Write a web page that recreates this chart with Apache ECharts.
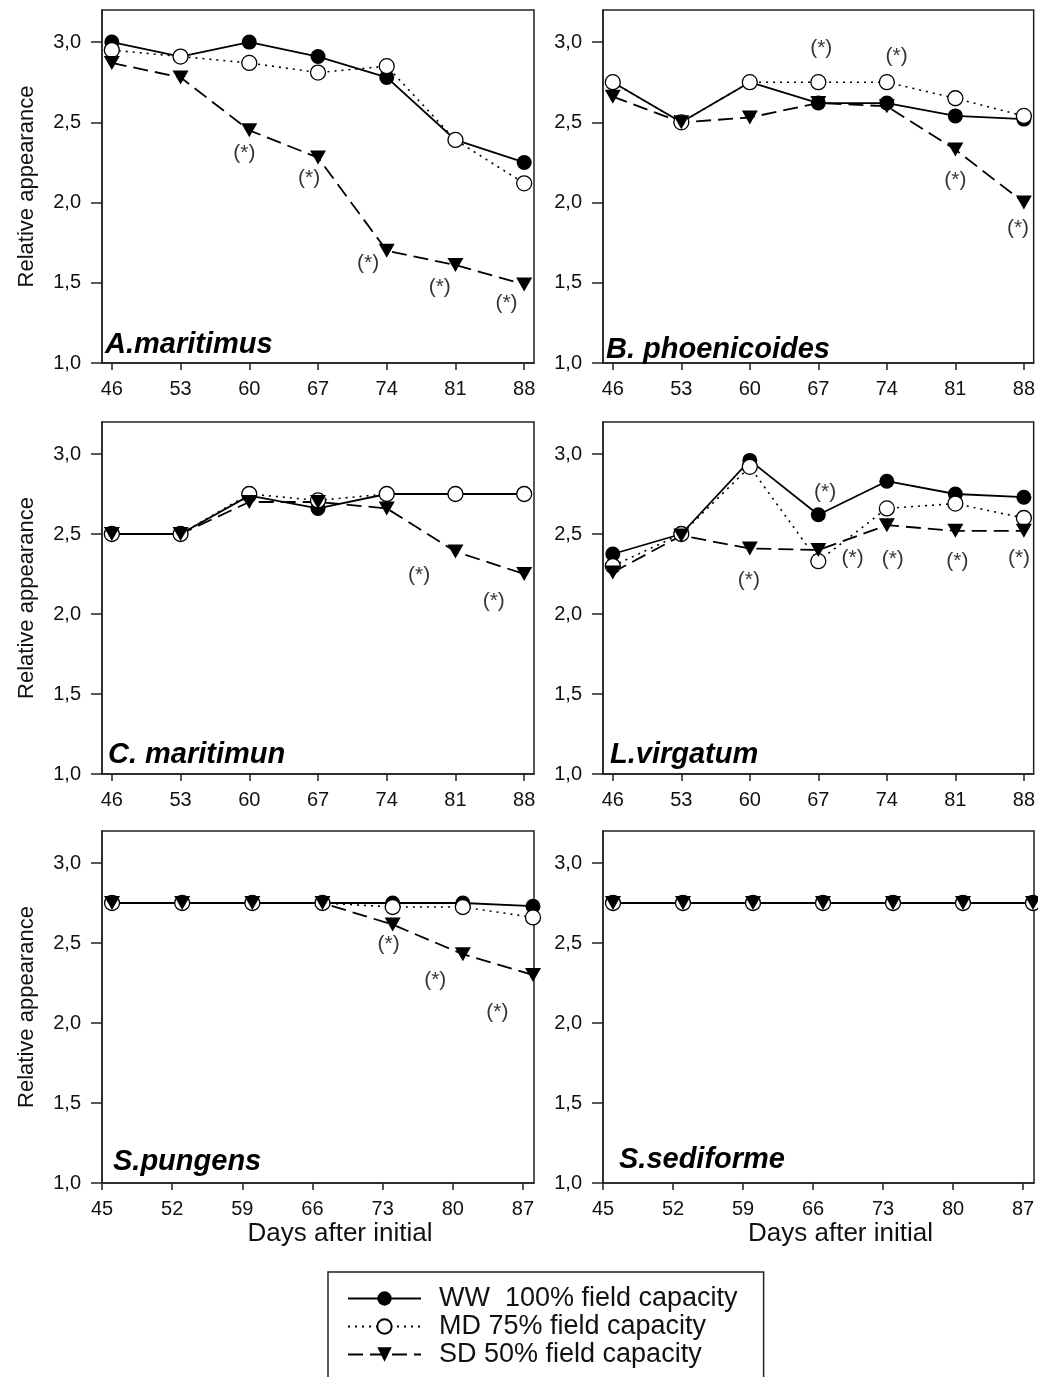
<!DOCTYPE html>
<html lang="en">
<head>
    <meta charset="utf-8">
    <script type="text/javascript" src="https://cdn.jsdelivr.net/npm/echarts@6/dist/echarts.min.js"></script>
</head>
<body style="margin: 0; background: #fff">
<div id="container" style="width:1038px;height:1377px"></div>

<script type="text/javascript">
    // days the plants were scored, and the tick labels used on each row
    var days = [46, 53, 60, 67, 74, 81, 88];
    var topTicks = [46, 53, 60, 67, 74, 81, 88];
    var bottomTicks = [45, 52, 59, 66, 73, 80, 87];
    var yTicks = [1.0, 1.5, 2.0, 2.5, 3.0];

    var seriesNames = ['WW  100% field capacity', 'MD 75% field capacity', 'SD 50% field capacity'];

    // A.maritimus
    var amarWW = [3.0, 2.91, 3.0, 2.91, 2.78, 2.39, 2.25];
    var amarMD = [2.95, 2.91, 2.87, 2.81, 2.85, 2.39, 2.12];
    var amarSD = [2.87, 2.78, 2.45, 2.28, 1.70, 1.61, 1.49];
    var amarStars = [[59.5, 2.31], [66.1, 2.15], [72.1, 1.62], [79.4, 1.47], [86.2, 1.37]];

    // B. phoenicoides
    var bphoWW = [2.75, 2.5, 2.75, 2.62, 2.62, 2.54, 2.52];
    var bphoMD = [2.75, 2.5, 2.75, 2.75, 2.75, 2.65, 2.54];
    var bphoSD = [2.66, 2.5, 2.53, 2.62, 2.60, 2.33, 2.0];
    var bphoStars = [[67.3, 2.96], [75.0, 2.91], [81.0, 2.14], [87.4, 1.84]];

    // C. maritimun
    var cmarWW = [2.5, 2.5, 2.74, 2.66, 2.75, 2.75, 2.75];
    var cmarMD = [2.5, 2.5, 2.75, 2.71, 2.75, 2.75, 2.75];
    var cmarSD = [2.5, 2.5, 2.70, 2.70, 2.66, 2.39, 2.25];
    var cmarStars = [[77.3, 2.24], [84.9, 2.08]];

    // L.virgatum
    var lvirWW = [2.375, 2.5, 2.96, 2.62, 2.83, 2.75, 2.73];
    var lvirMD = [2.30, 2.5, 2.92, 2.33, 2.66, 2.69, 2.60];
    var lvirSD = [2.26, 2.49, 2.41, 2.40, 2.555, 2.52, 2.52];
    var lvirStars = [[67.7, 2.76], [59.9, 2.21], [70.5, 2.35], [74.6, 2.34], [81.2, 2.33], [87.5, 2.35]];

    // S.pungens
    var spunWW = [2.75, 2.75, 2.75, 2.75, 2.75, 2.75, 2.73];
    var spunMD = [2.75, 2.75, 2.75, 2.75, 2.725, 2.725, 2.66];
    var spunSD = [2.75, 2.75, 2.75, 2.75, 2.615, 2.43, 2.30];
    var spunStars = [[73.6, 2.49], [78.25, 2.27], [84.45, 2.07]];

    // S.sediforme
    var ssedWW = [2.75, 2.75, 2.75, 2.75, 2.75, 2.75, 2.75];
    var ssedMD = [2.75, 2.75, 2.75, 2.75, 2.75, 2.75, 2.75];
    var ssedSD = [2.75, 2.75, 2.75, 2.75, 2.75, 2.75, 2.75];
    var ssedStars = [];

    var panels = [
        {name: 'A.maritimus', ww: amarWW, md: amarMD, sd: amarSD, stars: amarStars},
        {name: 'B. phoenicoides', ww: bphoWW, md: bphoMD, sd: bphoSD, stars: bphoStars},
        {name: 'C. maritimun', ww: cmarWW, md: cmarMD, sd: cmarSD, stars: cmarStars},
        {name: 'L.virgatum', ww: lvirWW, md: lvirMD, sd: lvirSD, stars: lvirStars},
        {name: 'S.pungens', ww: spunWW, md: spunMD, sd: spunSD, stars: spunStars},
        {name: 'S.sediforme', ww: ssedWW, md: ssedMD, sd: ssedSD, stars: ssedStars}
    ];

    var font = 'Liberation Sans, Arial, sans-serif';
    var colLeft = [102, 603];
    var colWidth = [432, 431];
    var rowTop = [10, 422, 831];
    var rowHeight = [353, 352, 352];
    // species label offsets inside each box
    var nameOffset = [[3, 320], [3, 325], [6, 318], [7, 318], [11, 316], [16, 314]];

    function pairs(vals) {
        return days.map(function (d, i) { return [d, vals[i]]; });
    }

    var grids = [], xAxes = [], yAxes = [], series = [], titles = [];

    panels.forEach(function (p, i) {
        var col = i % 2, row = Math.floor(i / 2);
        var bottomRow = row === 2;
        grids.push({
            left: colLeft[col], top: rowTop[row], width: colWidth[col], height: rowHeight[row],
            show: true, borderColor: '#222', borderWidth: 1.5, backgroundColor: '#fff'
        });
        xAxes.push({
            type: 'value', gridIndex: i,
            min: 45, max: bottomRow ? 88.1 : 89,
            splitLine: {show: false},
            axisLine: {lineStyle: {color: '#222', width: 1.5}},
            axisTick: {show: true, length: 7, lineStyle: {color: '#222', width: 1.5},
                customValues: bottomRow ? bottomTicks : topTicks},
            axisLabel: {color: '#111', fontSize: 20, fontFamily: font, margin: 16,
                customValues: bottomRow ? bottomTicks : topTicks},
            name: bottomRow ? 'Days after initial' : '',
            nameLocation: 'middle', nameGap: 38,
            nameTextStyle: {color: '#111', fontSize: 26, fontFamily: font, padding: [0, 0, 0, 44]}
        });
        yAxes.push({
            type: 'value', gridIndex: i, min: 1, max: 3.2,
            splitLine: {show: false},
            axisLine: {show: true, lineStyle: {color: '#222', width: 1.5}},
            axisTick: {show: true, length: 11, lineStyle: {color: '#222', width: 1.5}, customValues: yTicks},
            axisLabel: {color: '#111', fontSize: 20, fontFamily: font, margin: 21, customValues: yTicks,
                formatter: function (v) { return v.toFixed(1).replace('.', ','); }},
            name: col === 0 ? 'Relative appearance' : '',
            nameLocation: 'middle', nameGap: 64,
            nameTextStyle: {color: '#111', fontSize: 22, fontFamily: font}
        });
        series.push({
            type: 'line', name: seriesNames[0], xAxisIndex: i, yAxisIndex: i,
            data: pairs(p.ww), symbol: 'circle', symbolSize: 15,
            itemStyle: {color: '#000'},
            lineStyle: {color: '#000', width: 1.8}, animation: false
        });
        series.push({
            type: 'line', name: seriesNames[1], xAxisIndex: i, yAxisIndex: i,
            data: pairs(p.md), symbol: 'circle', symbolSize: 15,
            itemStyle: {color: '#fff', borderColor: '#000', borderWidth: 1.3},
            lineStyle: {color: '#000', width: 1.6, type: [2, 5]}, animation: false
        });
        series.push({
            type: 'line', name: seriesNames[2], xAxisIndex: i, yAxisIndex: i,
            data: pairs(p.sd), symbol: 'triangle', symbolRotate: 180, symbolSize: [16, 14],
            itemStyle: {color: '#000'},
            lineStyle: {color: '#000', width: 1.8, type: [15, 7]}, animation: false
        });
        series.push({
            type: 'scatter', xAxisIndex: i, yAxisIndex: i,
            data: p.stars, symbolSize: 1, itemStyle: {color: 'rgba(0,0,0,0)'},
            label: {show: true, position: 'inside', formatter: '(*)', color: '#000',
                fontSize: 21, fontFamily: font},
            silent: true, animation: false
        });
        titles.push({
            text: p.name,
            left: colLeft[col] + nameOffset[i][0], top: rowTop[row] + nameOffset[i][1],
            textStyle: {fontSize: 29, fontStyle: 'italic', fontWeight: 'bold', color: '#000', fontFamily: font},
            padding: 0
        });
    });

    var option = {
        backgroundColor: '#fff',
        animation: false,
        title: titles,
        grid: grids,
        xAxis: xAxes,
        yAxis: yAxes,
        legend: {
            data: seriesNames,
            orient: 'vertical',
            left: 328, top: 1272, height: 90,
            itemWidth: 73, itemHeight: 18, itemGap: 1,
            padding: [13, 26, 30, 19],
            borderColor: '#222', borderWidth: 1.5,
            textStyle: {fontSize: 27, color: '#111', fontFamily: font, padding: [0, 0, 0, 13]}
        },
        series: series
    };

    var myChart = echarts.init(document.getElementById('container'), null, {renderer: 'canvas'});
    myChart.setOption(option);
</script>
</body>
</html>
